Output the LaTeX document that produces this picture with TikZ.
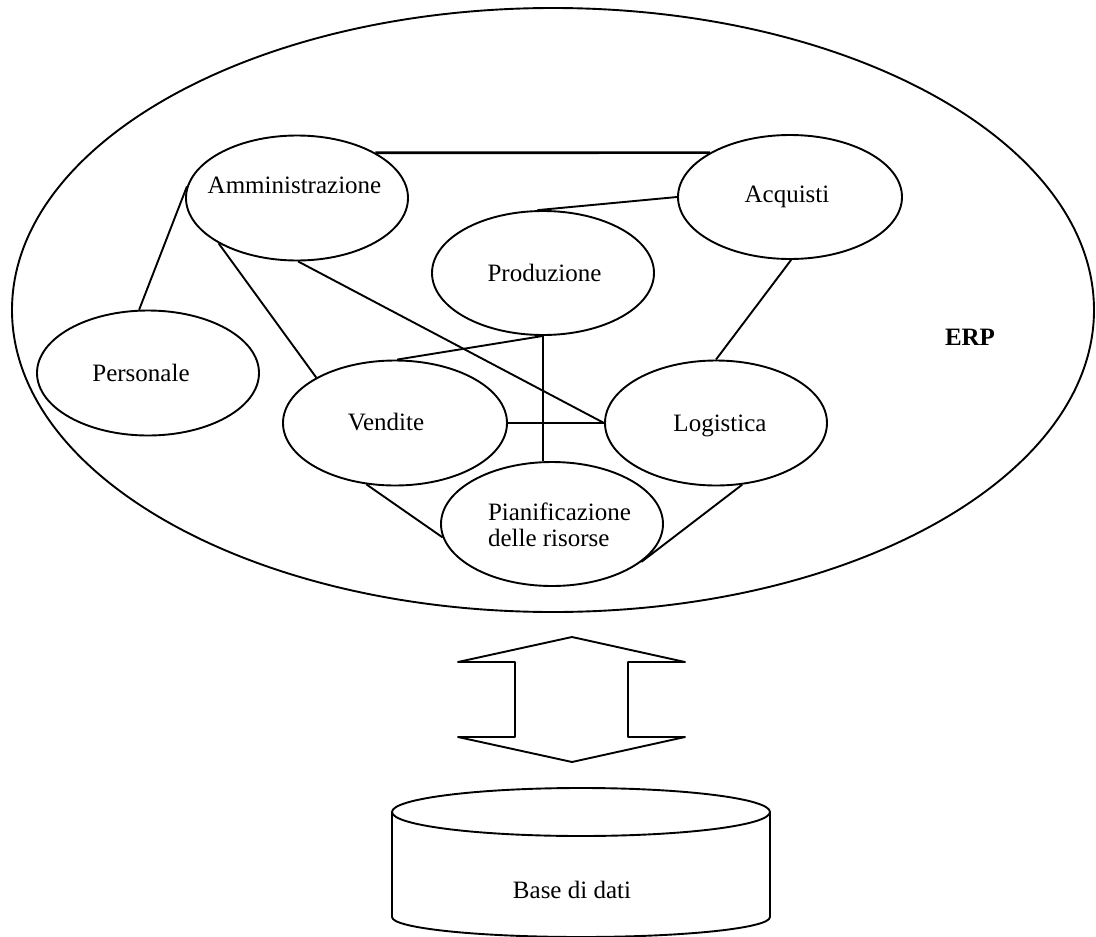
\documentclass[tikz,border=0pt]{standalone}
\usepackage{fontspec}
\setmainfont{Liberation Serif}
\usetikzlibrary{shapes.geometric}
\begin{document}
\begin{tikzpicture}[x=1pt,y=-1pt,
  modulo/.style={draw, ellipse, line width=1.9pt, inner sep=0pt,
    minimum width=222pt, minimum height=125pt},
  lbl/.style={font=\fontsize{25}{26.5}\selectfont, inner sep=0pt, align=left},
  link/.style={line width=1.9pt},
  strong/.style={line width=2.7pt}]
\useasboundingbox (0,0) rectangle (1096,937);

% ERP system boundary
\node[draw, ellipse, line width=1.9pt, inner sep=0pt,
  minimum width=1082pt, minimum height=604pt] (erp) at (553,310) {};
\node[lbl, font=\fontsize{25}{26.5}\selectfont\bfseries] (erplbl) at (970,337) {ERP};

% modules
\node[modulo, label={[lbl, xshift=-2.5pt, yshift=13pt]center:Amministrazione}] (adm) at (297,198) {};
\node[modulo, minimum width=224pt, minimum height=124pt,
  label={[lbl, xshift=-3pt]center:Acquisti}] (acq) at (790,197) {};
\node[modulo, minimum height=124pt,
  label={[lbl, xshift=1.5pt]center:Produzione}] (prod) at (543,273) {};
\node[modulo, label={[lbl, xshift=-7pt]center:Personale}] (pers) at (148,373) {};
\node[modulo, minimum width=224pt,
  label={[lbl, xshift=-9pt, yshift=1pt]center:Vendite}] (vend) at (395,423) {};
\node[modulo, label={[lbl, xshift=4pt, yshift=-3pt]center:Logistica}] (logi) at (716,423) {};
\node[modulo, minimum height=124pt,
  label={[lbl, xshift=7.5pt, yshift=-1pt]center:Pianificazione\\delle risorse}] (pian) at (552,524) {};

% links between modules
\draw[strong] (adm.30) -- (acq.151);
\draw[link] (acq.180) -- (prod.95);
\draw[link] (adm.174) -- (pers.98);
\draw[link] (adm.210) -- (vend.150);
\draw[link] (adm.271) -- (logi.180);
\draw[link] (prod.270) -- (vend.88);
\draw[strong] (prod.south) -- (prod.south |- pian.north);
\draw[strong] (vend.east) -- (logi.west);
\draw[link] (vend.245) -- (pian.187);
\draw[link] (pian.337) -- (logi.293);
\draw[link] (acq.271) -- (logi.90);

% two-way block arrow
\draw[link, line join=round] (572,637) -- (685,662) -- (628,662) -- (628,737)
  -- (685,737) -- (572,762) -- (458,737) -- (515,737) -- (515,662)
  -- (458,662) -- cycle;

% database cylinder
\draw[link] (581,812) ellipse[x radius=189, y radius=24];
\draw[link, line join=round] (392,812) -- (392,917)
  arc[start angle=180, end angle=0, x radius=189, y radius=20] -- (770,812);
\node[lbl] (db) at (572,890) {Base di dati};
\end{tikzpicture}
\end{document}
